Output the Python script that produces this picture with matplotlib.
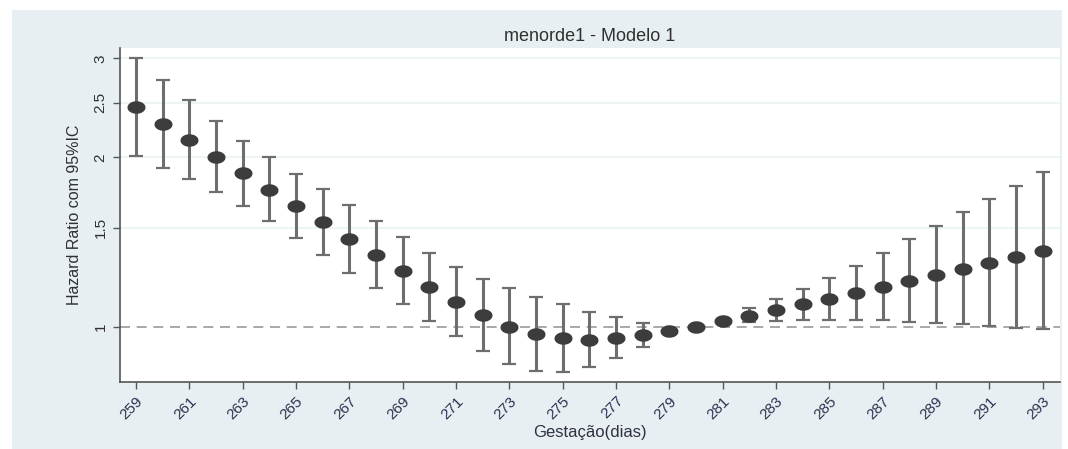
import numpy as np
import matplotlib
matplotlib.use('Agg')
import matplotlib.pyplot as plt
from matplotlib.patches import Rectangle

plt.rcParams['font.family'] = ['Liberation Sans', 'DejaVu Sans']

# gestational age (days) and hazard ratios with 95% CI
dias = list(range(259, 294))
hr = [2.455, 2.293, 2.145, 2.005, 1.874, 1.752, 1.639, 1.533, 1.434,
      1.341, 1.256, 1.176, 1.106, 1.049, 1.0, 0.969, 0.954, 0.947, 0.954,
      0.967, 0.983, 1.0, 1.024, 1.045, 1.071, 1.096, 1.120, 1.146, 1.175,
      1.206, 1.236, 1.265, 1.296, 1.330, 1.365]
ic_sup = [3.0, 2.742, 2.53, 2.324, 2.141, 2.005, 1.871, 1.755, 1.645,
          1.543, 1.442, 1.350, 1.275, 1.214, 1.170, 1.131, 1.096, 1.063, 1.038,
          1.016, 0.99, 1.0, 1.03, 1.078, 1.119, 1.166, 1.219, 1.282, 1.350,
          1.430, 1.510, 1.597, 1.685, 1.781, 1.881]
ic_inf = [2.01, 1.917, 1.83, 1.733, 1.639, 1.539, 1.436, 1.339, 1.247,
          1.170, 1.097, 1.025, 0.963, 0.905, 0.857, 0.834, 0.832, 0.849, 0.879,
          0.921, 0.975, 1.0, 1.017, 1.021, 1.025, 1.028, 1.028, 1.028, 1.028,
          1.021, 1.016, 1.011, 1.003, 0.996, 0.989]
xticks = list(range(259, 294, 2))
yticks = [1, 1.5, 2, 2.5, 3]

W, H = 1068, 449
fig = plt.figure(figsize=(W / 100, H / 100), dpi=100)
fig.patch.set_facecolor('white')
# Stata-style outer panel
fig.patches.append(Rectangle((12 / W, 0), 1 - 18 / W, 1 - 10 / H,
                             transform=fig.transFigure, facecolor='#e7eff2',
                             edgecolor='none', zorder=-10))

ax = fig.add_axes([120 / W, 1 - 382 / H, (1060 - 120) / W, (382 - 48) / H])
ax.set_facecolor('white')
ax.set_yscale('log')
ax.set_xlim(258.4, 293.65)
ax.set_ylim(0.797, 3.13)

for y in yticks[1:]:
    ax.axhline(y, color='#eaf2f3', lw=1.2, zorder=0)
ax.axhline(1, color='#9a9a9a', lw=1.2, ls=(0, (6, 4)), zorder=1)

hr_a = np.array(hr)
err = [hr_a - np.array(ic_inf), np.array(ic_sup) - hr_a]
t = np.linspace(0, 2 * np.pi, 40)
ellipse = np.column_stack([1.5 * np.cos(t), np.sin(t)])
ax.errorbar(dias, hr, yerr=err, fmt='none', ecolor='#6e6e6e', elinewidth=2.2,
            capsize=5, capthick=1.6, zorder=2)
ax.plot(dias, hr, ls='none', marker=ellipse, markersize=12,
        color='#3c3c3c', zorder=3)

ax.set_xticks(xticks)
ax.set_xticklabels([str(x) for x in xticks], rotation=45, ha='right',
                   rotation_mode='anchor', fontsize=11, color='#303050')
ax.set_yticks(yticks)
ax.set_yticklabels(['1', '1.5', '2', '2.5', '3'], rotation=90, va='center',
                   fontsize=11, color='#303030')
ax.yaxis.set_minor_locator(matplotlib.ticker.NullLocator())
ax.tick_params(axis='both', length=5, width=1, color='#555555')
ax.tick_params(axis='y', pad=4)

for side in ['top', 'right']:
    ax.spines[side].set_visible(False)
for side in ['left', 'bottom']:
    ax.spines[side].set_color('#555555')
    ax.spines[side].set_linewidth(1.2)

ax.set_ylabel('Hazard Ratio com 95%IC', fontsize=11.5, color='#303030',
              labelpad=8)
ax.set_xlabel('Gestação(dias)', fontsize=12, color='#303040', labelpad=2)
ax.set_title('menorde1 - Modelo 1', fontsize=13, color='#303030', pad=5)

fig.savefig('out.png', dpi=100)
